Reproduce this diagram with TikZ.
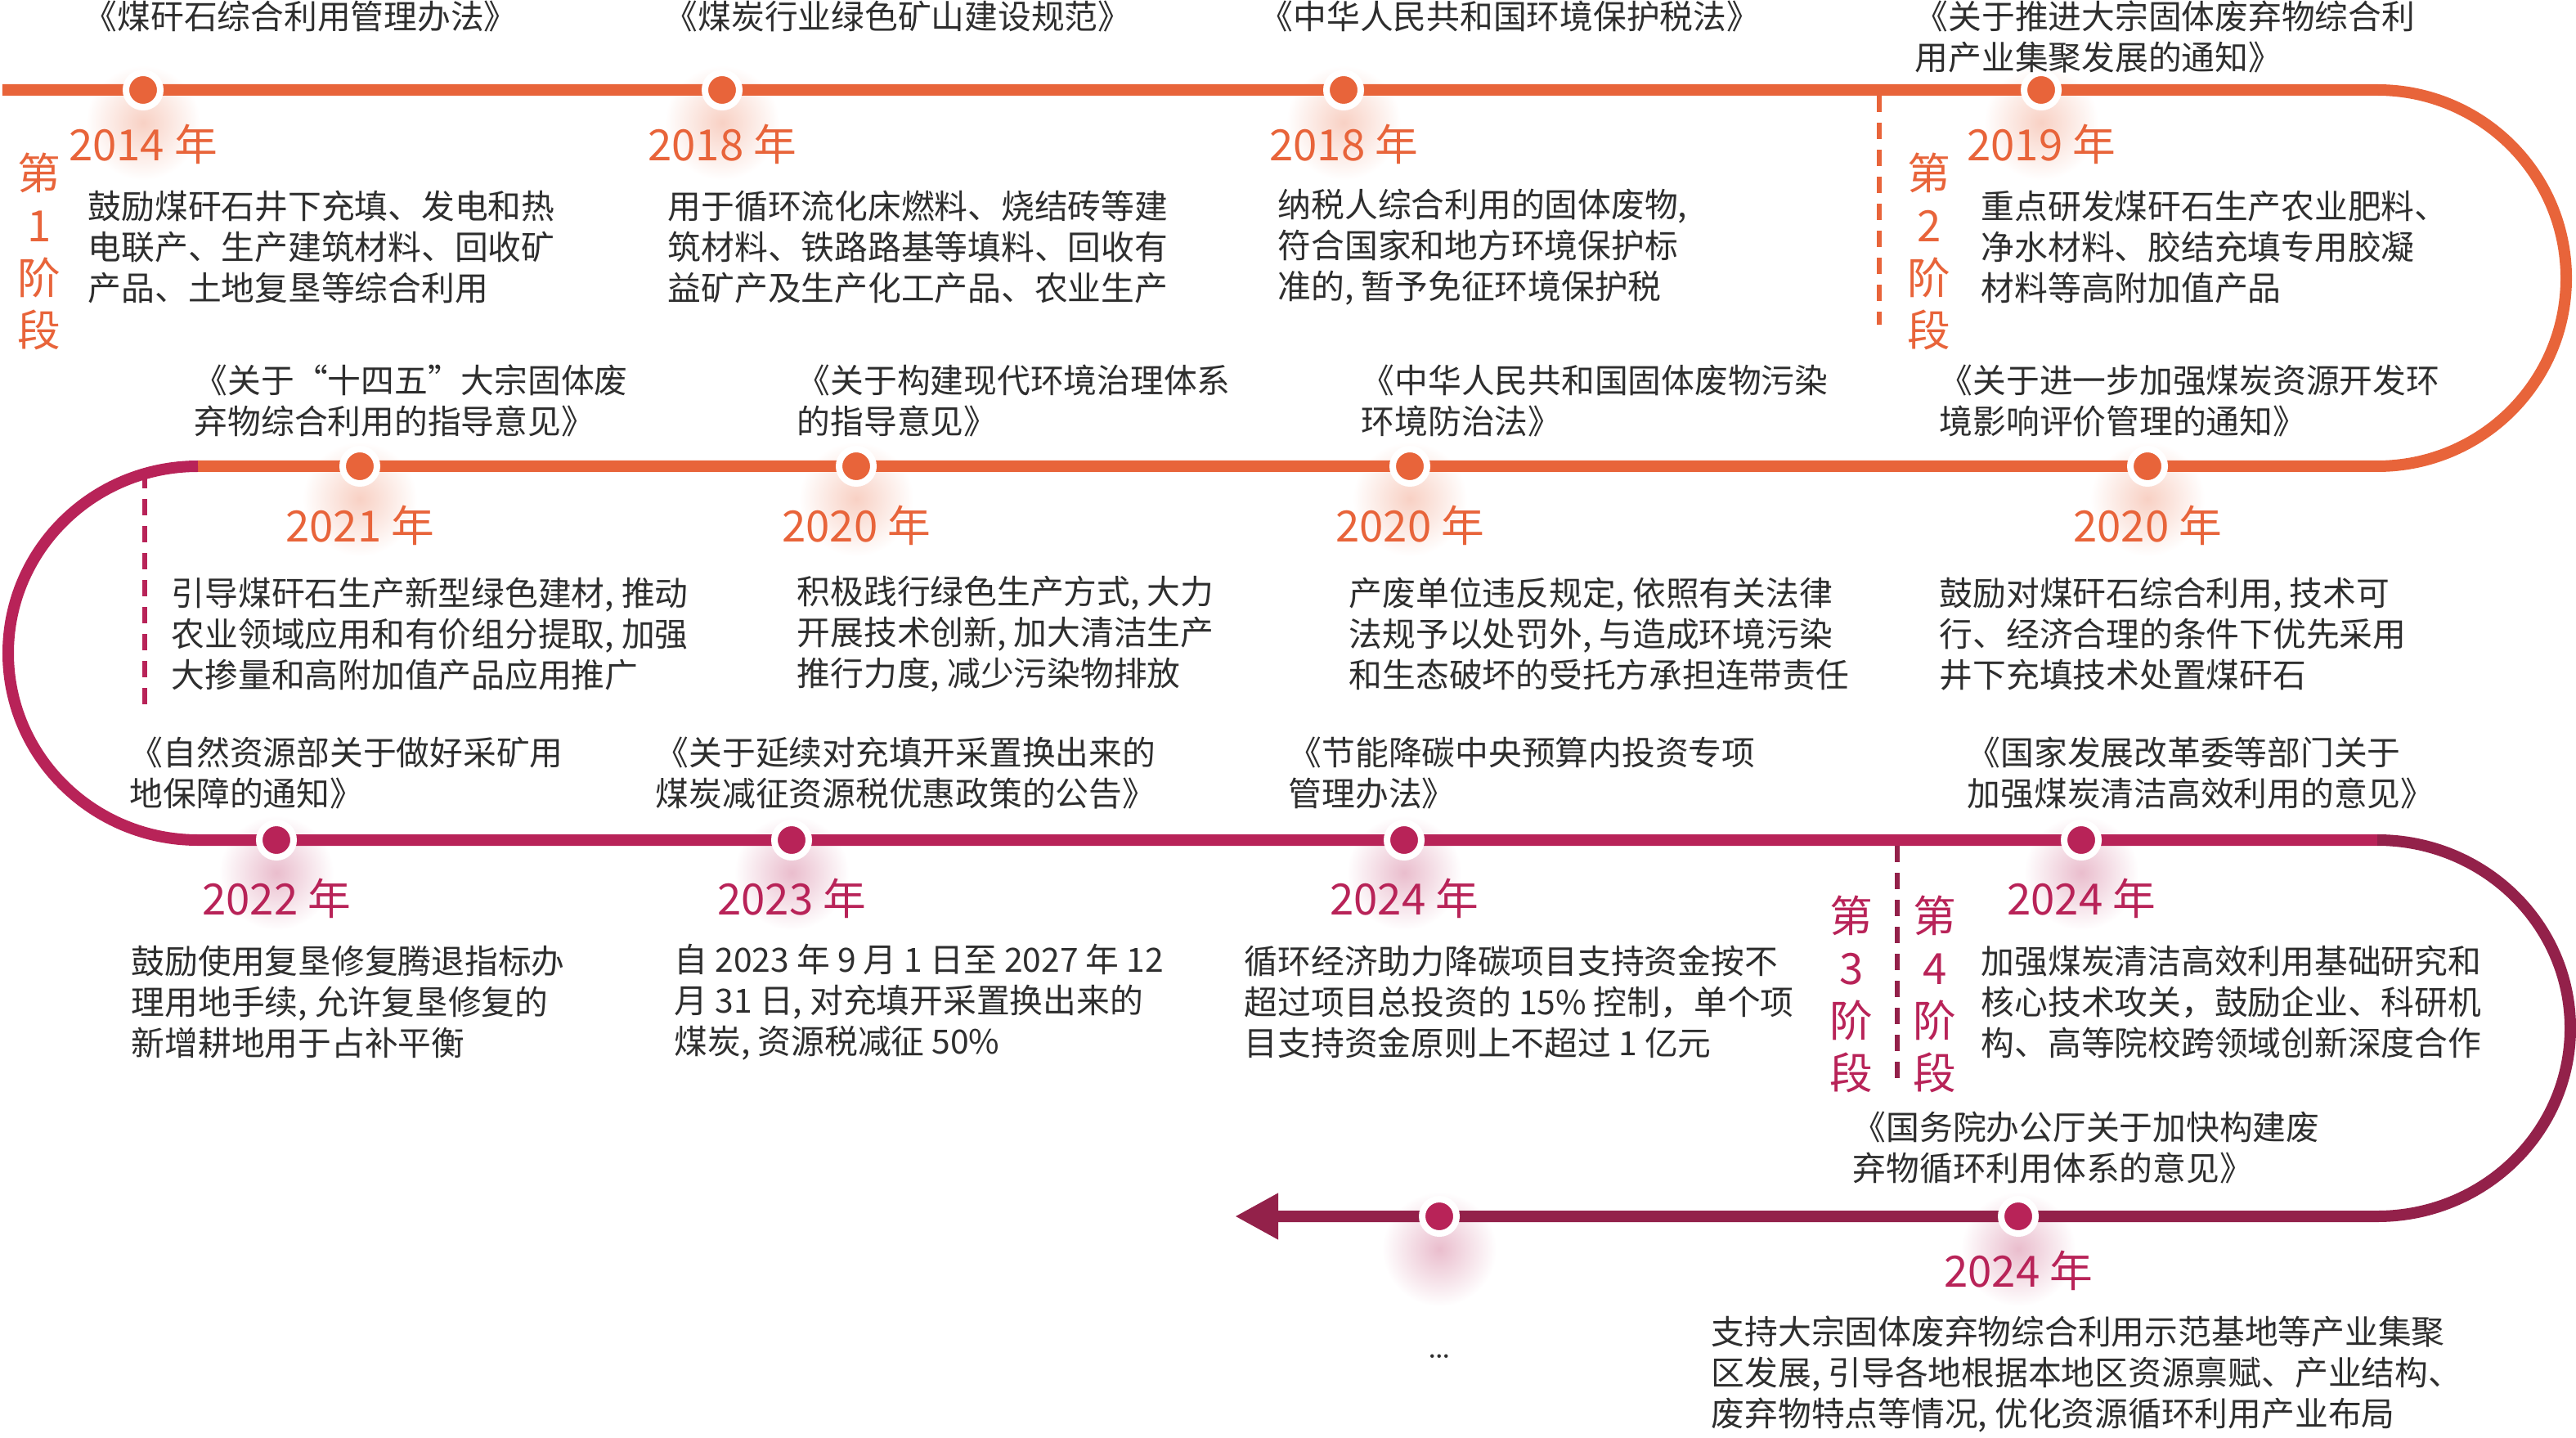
\documentclass[tikz,border=0pt]{standalone}
\usepackage{fontspec}
\usepackage{xcolor}
\usepackage{tikz}
\usetikzlibrary{arrows.meta}
\newfontfamily\cjk{Noto Sans CJK SC}
\definecolor{trackorange}{HTML}{E8643A}
\definecolor{trackcrimson}{HTML}{B82358}
\definecolor{trackmaroon}{HTML}{93214A}
\definecolor{inkgray}{HTML}{2E2E2E}

\begin{document}
\begin{tikzpicture}[
    blurb/.style={anchor=west, align=left, inner sep=0pt, text=inkgray, font=\cjk\fontsize{11.6}{14.2}\selectfont},
    yearlabel/.style={inner sep=0pt, text=#1, font=\cjk\fontsize{15}{18}\selectfont},
    stagelabel/.style={inner sep=0pt, align=center, text=#1, font=\cjk\fontsize{15}{18.2}\selectfont},
    milestone/.style={circle, fill=#1, draw=white, line width=0.08cm, minimum size=0.42cm, inner sep=0pt},
    halo/.style={inner color=#1!30, outer color=white},
    track/.style={draw=#1, line width=0.14cm},
    stagesep/.style={draw=#1, line width=0.06cm, dash pattern=on 0.2cm off 0.13cm}
]
\useasboundingbox (0,0) rectangle (31.5,17.57);

% Soft glow under the milestones
\shade[halo=trackorange] (1.75,16.07) circle (0.7);
\shade[halo=trackorange] (8.83,16.07) circle (0.7);
\shade[halo=trackorange] (16.43,16.07) circle (0.7);
\shade[halo=trackorange] (24.96,16.07) circle (0.7);
\shade[halo=trackorange] (4.40,11.47) circle (0.7);
\shade[halo=trackorange] (10.47,11.47) circle (0.7);
\shade[halo=trackorange] (17.24,11.47) circle (0.7);
\shade[halo=trackorange] (26.26,11.47) circle (0.7);
\shade[halo=trackcrimson] (3.38,6.90) circle (0.7);
\shade[halo=trackcrimson] (9.68,6.90) circle (0.7);
\shade[halo=trackcrimson] (17.17,6.90) circle (0.7);
\shade[halo=trackcrimson] (25.45,6.90) circle (0.7);
\shade[halo=trackcrimson] (24.68,2.30) circle (0.7);
\shade[halo=trackcrimson] (17.60,2.30) circle (0.7);

% Track - orange part (rows 1 and 2)
\draw[track=trackorange] (0.03,16.47) -- (29.07,16.47)
    arc[start angle=90, end angle=-90, x radius=2.31, y radius=2.30] -- (2.42,11.87);
% Track - crimson part (row 3)
\draw[track=trackcrimson] (2.42,11.87)
    arc[start angle=90, end angle=270, x radius=2.32, y radius=2.285] -- (29.07,7.30);
% Track - maroon part (row 4) with the arrow
\draw[track=trackmaroon, -{Triangle[length=0.53cm, width=0.53cm]}] (29.07,7.30)
    arc[start angle=90, end angle=-90, x radius=2.36, y radius=2.30] -- (15.10,2.70);

% Stage separators
\draw[stagesep=trackorange] (22.98,16.40) -- (22.98,13.60);
\draw[stagesep=trackcrimson] (1.77,11.80) -- (1.77,8.92);
\draw[stagesep=trackmaroon] (23.20,7.23) -- (23.20,4.31);

% Stage labels
\node[stagelabel=trackorange] (stage1) at (0.48,14.50) {第\\1\\阶\\段};
\node[stagelabel=trackorange] (stage2) at (23.59,14.50) {第\\2\\阶\\段};
\node[stagelabel=trackcrimson] (stage3) at (22.64,5.42) {第\\3\\阶\\段};
\node[stagelabel=trackcrimson] (stage4) at (23.66,5.42) {第\\4\\阶\\段};

% Milestones
\node[milestone=trackorange] (dot1) at (1.75,16.47) {};
\node[milestone=trackorange] (dot2) at (8.83,16.47) {};
\node[milestone=trackorange] (dot3) at (16.43,16.47) {};
\node[milestone=trackorange] (dot4) at (24.96,16.47) {};
\node[milestone=trackorange] (dot5) at (4.40,11.87) {};
\node[milestone=trackorange] (dot6) at (10.47,11.87) {};
\node[milestone=trackorange] (dot7) at (17.24,11.87) {};
\node[milestone=trackorange] (dot8) at (26.26,11.87) {};
\node[milestone=trackcrimson] (dot9) at (3.38,7.30) {};
\node[milestone=trackcrimson] (dot10) at (9.68,7.30) {};
\node[milestone=trackcrimson] (dot11) at (17.17,7.30) {};
\node[milestone=trackcrimson] (dot12) at (25.45,7.30) {};
\node[milestone=trackcrimson] (dot13) at (24.68,2.70) {};
\node[milestone=trackcrimson] (dot14) at (17.60,2.70) {};

% Row 1 - 2014 to 2019
\node[blurb] (law1) at (1.02,17.37) {《煤矸石综合利用管理办法》};
\node[yearlabel=trackorange] (yr1) at (1.75,15.81) {2014 年};
\node[blurb] (note1) at (1.07,14.55) {鼓励煤矸石井下充填、发电和热\\电联产、生产建筑材料、回收矿\\产品、土地复垦等综合利用};

\node[blurb] (law2) at (8.12,17.37) {《煤炭行业绿色矿山建设规范》};
\node[yearlabel=trackorange] (yr2) at (8.83,15.81) {2018 年};
\node[blurb] (note2) at (8.16,14.55) {用于循环流化床燃料、烧结砖等建\\筑材料、铁路路基等填料、回收有\\益矿产及生产化工产品、农业生产};

\node[blurb] (law3) at (15.40,17.37) {《中华人民共和国环境保护税法》};
\node[yearlabel=trackorange] (yr3) at (16.43,15.81) {2018 年};
\node[blurb] (note3) at (15.62,14.55) {纳税人综合利用的固体废物,\\符合国家和地方环境保护标\\准的, 暂予免征环境保护税};

\node[blurb] (law4) at (23.41,17.12) {《关于推进大宗固体废弃物综合利\\用产业集聚发展的通知》};
\node[yearlabel=trackorange] (yr4) at (24.96,15.81) {2019 年};
\node[blurb] (note4) at (24.22,14.55) {重点研发煤矸石生产农业肥料、\\净水材料、胶结充填专用胶凝\\材料等高附加值产品};

% Row 2 - 2021 back to 2020
\node[blurb] (law5) at (2.37,12.67) {《关于“十四五”大宗固体废\\弃物综合利用的指导意见》};
\node[yearlabel=trackorange] (yr5) at (4.40,11.15) {2021 年};
\node[blurb] (note5) at (2.09,9.82) {引导煤矸石生产新型绿色建材, 推动\\农业领域应用和有价组分提取, 加强\\大掺量和高附加值产品应用推广};

\node[blurb] (law6) at (9.74,12.67) {《关于构建现代环境治理体系\\的指导意见》};
\node[yearlabel=trackorange] (yr6) at (10.47,11.15) {2020 年};
\node[blurb] (note6) at (9.74,9.82) {积极践行绿色生产方式, 大力\\开展技术创新, 加大清洁生产\\推行力度, 减少污染物排放};

\node[blurb] (law7) at (16.64,12.67) {《中华人民共和国固体废物污染\\环境防治法》};
\node[yearlabel=trackorange] (yr7) at (17.24,11.15) {2020 年};
\node[blurb] (note7) at (16.49,9.82) {产废单位违反规定, 依照有关法律\\法规予以处罚外, 与造成环境污染\\和生态破坏的受托方承担连带责任};

\node[blurb] (law8) at (23.71,12.67) {《关于进一步加强煤炭资源开发环\\境影响评价管理的通知》};
\node[yearlabel=trackorange] (yr8) at (26.26,11.15) {2020 年};
\node[blurb] (note8) at (23.71,9.82) {鼓励对煤矸石综合利用, 技术可\\行、经济合理的条件下优先采用\\井下充填技术处置煤矸石};

% Row 3 - 2022 to 2024
\node[blurb] (law9) at (1.58,8.12) {《自然资源部关于做好采矿用\\地保障的通知》};
\node[yearlabel=trackcrimson] (yr9) at (3.38,6.59) {2022 年};
\node[blurb] (note9) at (1.60,5.32) {鼓励使用复垦修复腾退指标办\\理用地手续, 允许复垦修复的\\新增耕地用于占补平衡};

\node[blurb] (law10) at (8.01,8.12) {《关于延续对充填开采置换出来的\\煤炭减征资源税优惠政策的公告》};
\node[yearlabel=trackcrimson] (yr10) at (9.68,6.59) {2023 年};
\node[blurb] (note10) at (8.24,5.32) {自 2023 年 9 月 1 日至 2027 年 12\\月 31 日, 对充填开采置换出来的\\煤炭, 资源税减征 50\%};

\node[blurb] (law11) at (15.75,8.12) {《节能降碳中央预算内投资专项\\管理办法》};
\node[yearlabel=trackcrimson] (yr11) at (17.17,6.59) {2024 年};
\node[blurb] (note11) at (15.21,5.32) {循环经济助力降碳项目支持资金按不\\超过项目总投资的 15\% 控制，单个项\\目支持资金原则上不超过 1 亿元};

\node[blurb] (law12) at (24.05,8.12) {《国家发展改革委等部门关于\\加强煤炭清洁高效利用的意见》};
\node[yearlabel=trackcrimson] (yr12) at (25.45,6.59) {2024 年};
\node[blurb] (note12) at (24.22,5.32) {加强煤炭清洁高效利用基础研究和\\核心技术攻关，鼓励企业、科研机\\构、高等院校跨领域创新深度合作};

% Row 4 - 2024 and onwards
\node[blurb] (law13) at (22.65,3.54) {《国务院办公厅关于加快构建废\\弃物循环利用体系的意见》};
\node[yearlabel=trackcrimson] (yr13) at (24.68,2.04) {2024 年};
\node[blurb] (note13) at (20.92,0.77) {支持大宗固体废弃物综合利用示范基地等产业集聚\\区发展, 引导各地根据本地区资源禀赋、产业结构、\\废弃物特点等情况, 优化资源循环利用产业布局};
\node[text=inkgray, anchor=base, inner sep=0pt, font=\fontsize{13}{15}\selectfont] (more) at (17.60,0.97) {\ldots};
\end{tikzpicture}
\end{document}
